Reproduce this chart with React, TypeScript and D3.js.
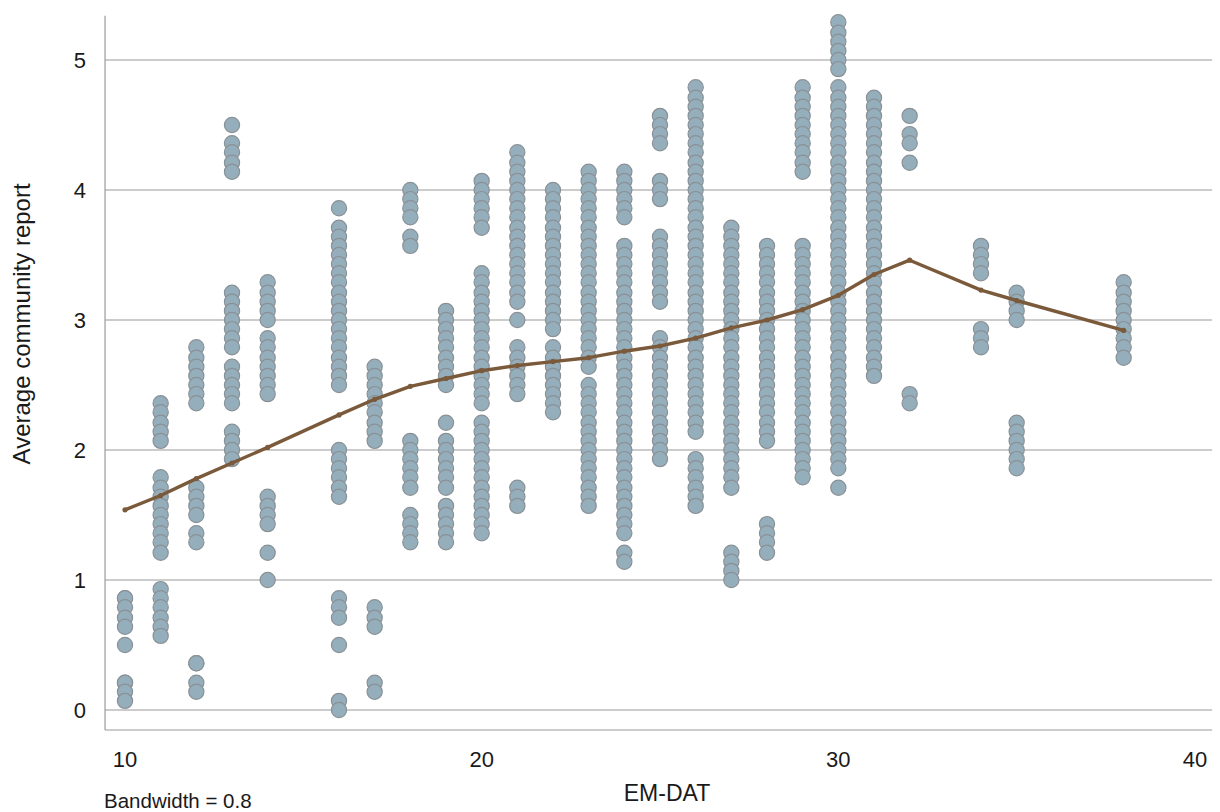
import React from 'react';
import * as d3 from 'd3';

// EM-DAT values (x) and the community report averages seen at each of them
const emdat = [10, 11, 12, 13, 14, 16, 17, 18, 19, 20, 21, 22, 23, 24, 25, 26, 27, 28, 29, 30, 31, 32, 34, 35, 38];

const reports: number[][] = [
  [0.86, 0.86, 0.79, 0.71, 0.64, 0.5, 0.21, 0.21, 0.14, 0.07],
  [2.36, 2.29, 2.21, 2.14, 2.07, 1.79, 1.71, 1.64, 1.57, 1.5, 1.43, 1.36, 1.29, 1.21, 0.93, 0.86, 0.79, 0.71, 0.64, 0.57],
  [2.79, 2.71, 2.64, 2.57, 2.5, 2.43, 2.36, 1.71, 1.64, 1.57, 1.5, 1.36, 1.29, 0.36, 0.36, 0.21, 0.14],
  [4.5, 4.36, 4.29, 4.21, 4.14, 3.21, 3.14, 3.07, 3.0, 2.93, 2.86, 2.79, 2.64, 2.57, 2.5, 2.43, 2.36, 2.14, 2.07, 2.0, 1.93],
  [3.29, 3.21, 3.14, 3.07, 3.0, 2.86, 2.79, 2.71, 2.64, 2.57, 2.5, 2.43, 1.64, 1.57, 1.5, 1.43, 1.21, 1.0],
  [3.86, 3.71, 3.64, 3.57, 3.5, 3.43, 3.36, 3.29, 3.21, 3.14, 3.07, 3.0, 2.93, 2.86, 2.79, 2.71, 2.64, 2.57, 2.5,
    2.0, 1.93, 1.86, 1.79, 1.71, 1.64, 0.86, 0.79, 0.71, 0.5, 0.07, 0.0],
  [2.64, 2.57, 2.5, 2.43, 2.36, 2.29, 2.21, 2.14, 2.07, 0.79, 0.71, 0.64, 0.21, 0.14],
  [4.0, 3.93, 3.86, 3.79, 3.64, 3.57, 2.07, 2.0, 1.93, 1.86, 1.79, 1.71, 1.5, 1.43, 1.36, 1.29],
  [3.07, 3.0, 2.93, 2.86, 2.79, 2.71, 2.64, 2.57, 2.5, 2.21, 2.07, 2.0, 1.93, 1.86, 1.79, 1.71, 1.57, 1.5, 1.43, 1.36, 1.29],
  [4.07, 4.0, 3.93, 3.86, 3.79, 3.71, 3.36, 3.29, 3.21, 3.14, 3.07, 3.0, 2.93, 2.86, 2.79, 2.71, 2.64, 2.57, 2.5, 2.43, 2.36,
    2.21, 2.14, 2.07, 2.0, 1.93, 1.86, 1.79, 1.71, 1.64, 1.57, 1.5, 1.43, 1.36],
  [4.29, 4.21, 4.14, 4.07, 4.0, 3.93, 3.86, 3.79, 3.71, 3.64, 3.57, 3.5, 3.43, 3.36, 3.29, 3.21, 3.14, 3.0,
    2.79, 2.71, 2.64, 2.57, 2.5, 2.43, 1.71, 1.64, 1.57],
  [4.0, 3.93, 3.86, 3.79, 3.71, 3.64, 3.57, 3.5, 3.43, 3.36, 3.29, 3.21, 3.14, 3.07, 3.0, 2.93,
    2.79, 2.71, 2.64, 2.57, 2.5, 2.43, 2.36, 2.29],
  [4.14, 4.07, 4.0, 3.93, 3.86, 3.79, 3.71, 3.64, 3.57, 3.5, 3.43, 3.36, 3.29, 3.21, 3.14, 3.07, 3.0, 2.93, 2.86, 2.79, 2.71, 2.64,
    2.5, 2.43, 2.36, 2.29, 2.21, 2.14, 2.07, 2.0, 1.93, 1.86, 1.79, 1.71, 1.64, 1.57],
  [4.14, 4.07, 4.0, 3.93, 3.86, 3.79,
    3.57, 3.5, 3.43, 3.36, 3.29, 3.21, 3.14, 3.07, 3.0, 2.93, 2.86, 2.79, 2.71, 2.64, 2.57, 2.5, 2.43, 2.36, 2.29, 2.21, 2.14,
    2.07, 2.0, 1.93, 1.86, 1.79, 1.71, 1.64, 1.57, 1.5, 1.43, 1.36, 1.21, 1.14],
  [4.57, 4.5, 4.43, 4.36, 4.07, 4.0, 3.93, 3.64, 3.57, 3.5, 3.43, 3.36, 3.29, 3.21, 3.14,
    2.86, 2.79, 2.71, 2.64, 2.57, 2.5, 2.43, 2.36, 2.29, 2.21, 2.14, 2.07, 2.0, 1.93],
  [4.79, 4.71, 4.64, 4.57, 4.5, 4.43, 4.36, 4.29, 4.21, 4.14, 4.07, 4.0, 3.93, 3.86, 3.79, 3.71, 3.64, 3.57, 3.5, 3.43,
    3.36, 3.29, 3.21, 3.14, 3.07, 3.0, 2.93, 2.86, 2.79, 2.71, 2.64, 2.57, 2.5, 2.43, 2.36, 2.29, 2.21, 2.14,
    1.93, 1.86, 1.79, 1.71, 1.64, 1.57],
  [3.71, 3.64, 3.57, 3.5, 3.43, 3.36, 3.29, 3.21, 3.14, 3.07, 3.0, 2.93, 2.86, 2.79, 2.71, 2.64, 2.57, 2.5, 2.43, 2.36,
    2.29, 2.21, 2.14, 2.07, 2.0, 1.93, 1.86, 1.79, 1.71, 1.21, 1.14, 1.07, 1.0],
  [3.57, 3.5, 3.43, 3.36, 3.29, 3.21, 3.14, 3.07, 3.0, 2.93, 2.86, 2.79, 2.71, 2.64, 2.57, 2.5, 2.43, 2.36, 2.29, 2.21,
    2.14, 2.07, 1.43, 1.36, 1.29, 1.21],
  [4.79, 4.71, 4.64, 4.57, 4.5, 4.43, 4.36, 4.29, 4.21, 4.14,
    3.57, 3.5, 3.43, 3.36, 3.29, 3.21, 3.14, 3.07, 3.0, 2.93, 2.86, 2.79, 2.71, 2.64, 2.57, 2.5, 2.43, 2.36, 2.29, 2.21,
    2.14, 2.07, 2.0, 1.93, 1.86, 1.79],
  [5.29, 5.21, 5.14, 5.07, 5.0, 4.93,
    4.79, 4.71, 4.64, 4.57, 4.5, 4.43, 4.36, 4.29, 4.21, 4.14, 4.07, 4.0, 3.93, 3.86, 3.79, 3.71, 3.64, 3.57, 3.5, 3.43,
    3.36, 3.29, 3.21, 3.14, 3.07, 3.0, 2.93, 2.86, 2.79, 2.71, 2.64, 2.57, 2.5, 2.43, 2.36, 2.29, 2.21, 2.14, 2.07, 2.0,
    1.93, 1.86, 1.71],
  [4.71, 4.64, 4.57, 4.5, 4.43, 4.36, 4.29, 4.21, 4.14, 4.07, 4.0, 3.93, 3.86, 3.79, 3.71, 3.64, 3.57, 3.5, 3.43, 3.36,
    3.29, 3.21, 3.14, 3.07, 3.0, 2.93, 2.86, 2.79, 2.71, 2.64, 2.57],
  [4.57, 4.43, 4.36, 4.21, 2.43, 2.36],
  [3.57, 3.5, 3.43, 3.36, 2.93, 2.86, 2.79],
  [3.21, 3.14, 3.07, 3.0, 2.21, 2.14, 2.07, 2.0, 1.93, 1.86],
  [3.29, 3.21, 3.14, 3.07, 3.0, 2.93, 2.86, 2.79, 2.71],
];

// lowess fit at each EM-DAT value
const smooth = [1.54, 1.65, 1.78, 1.9, 2.02, 2.27, 2.39, 2.49, 2.55, 2.61, 2.65, 2.68, 2.71, 2.76, 2.8, 2.86, 2.94,
  3.0, 3.08, 3.19, 3.35, 3.46, 3.23, 3.15, 2.92];

const xTicks = [10, 20, 30, 40];
const yTicks = [0, 1, 2, 3, 4, 5];

const W = 1220;
const H = 812;
const font = 'Helvetica, Arial, "Liberation Sans", sans-serif';

export default function App() {
  const x = d3.scaleLinear().domain([10, 40]).range([125, 1195]);
  const y = d3.scaleLinear().domain([0, 5]).range([710, 60]);

  const left = x(9.44);
  const right = x(40.48);
  const top = y(5.34);
  const bottom = y(-0.154);

  const points = emdat.flatMap((e, i) => reports[i].map((r) => ({ e, r })));

  const line = d3
    .line<number>()
    .x((_, i) => x(emdat[i]))
    .y((d) => y(d));

  return (
    <div style={{ position: 'absolute', left: 0, top: 0 }}>
      <svg width={W} height={H} style={{ display: 'block', background: '#fff' }}>
        {yTicks.map((t) => (
          <g key={t}>
            <line x1={left} x2={right} y1={y(t)} y2={y(t)} stroke="#9a9a9a" strokeWidth={1.2} />
            <text x={86} y={y(t)} dy="0.36em" textAnchor="end" fontFamily={font} fontSize={22} fill="#1a1a1a">
              {t}
            </text>
          </g>
        ))}
        <line x1={left} x2={left} y1={top} y2={bottom} stroke="#9a9a9a" strokeWidth={1.2} />
        <line x1={left} x2={right} y1={bottom} y2={bottom} stroke="#9a9a9a" strokeWidth={1.2} />
        {xTicks.map((t) => (
          <text key={t} x={x(t)} y={767} textAnchor="middle" fontFamily={font} fontSize={22} fill="#1a1a1a">
            {t}
          </text>
        ))}

        {points.map((p, i) => (
          <circle key={i} cx={x(p.e)} cy={y(p.r)} r={7.6} fill="#95aebb" stroke="#8a9196" strokeWidth={1.2} />
        ))}

        <path d={line(smooth) ?? ''} fill="none" stroke="#7b5a3b" strokeWidth={3.4} strokeLinejoin="round" />
        {smooth.map((s, i) => (
          <circle key={i} cx={x(emdat[i])} cy={y(s)} r={2.6} fill="#7b5a3b" />
        ))}

        <text x={667} y={801} textAnchor="middle" fontFamily={font} fontSize={23} fill="#1a1a1a">
          EM-DAT
        </text>
        <text
          transform={`translate(30, ${y(2.97)}) rotate(-90)`}
          textAnchor="middle"
          fontFamily={font}
          fontSize={24}
          fill="#1a1a1a"
        >
          Average community report
        </text>
        <text x={104} y={808} fontFamily={font} fontSize={20.5} fill="#1a1a1a">
          Bandwidth = 0.8
        </text>
      </svg>
    </div>
  );
}
